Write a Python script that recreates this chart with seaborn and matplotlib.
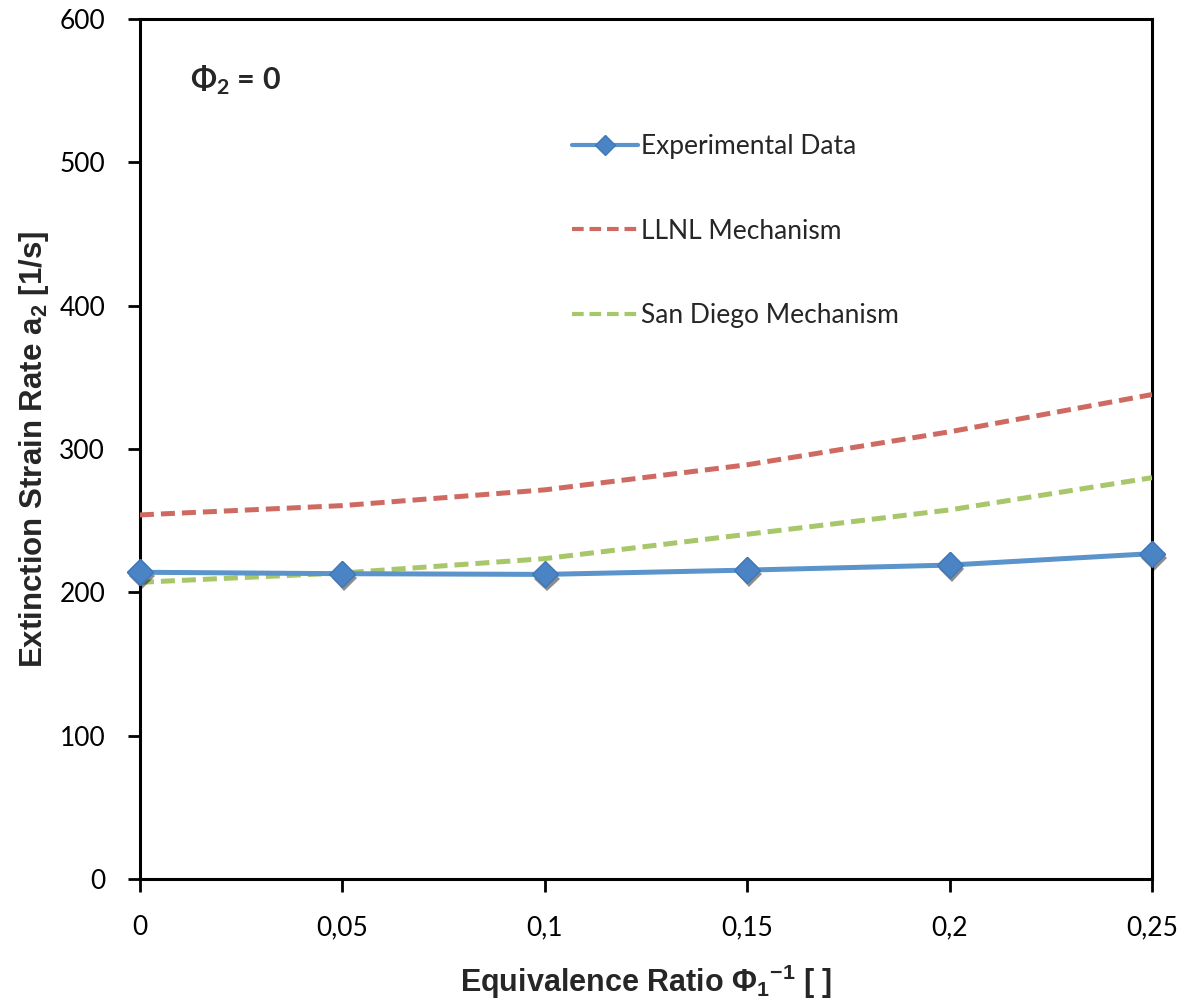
import matplotlib
matplotlib.use("Agg")
import matplotlib.pyplot as plt
import matplotlib.patheffects as pe
import seaborn as sns
import pandas as pd

# Inverse equivalence ratio of stream 1
phi1_inv = [0.0, 0.05, 0.10, 0.15, 0.20, 0.25]

# Extinction strain rates a2 [1/s]
experimental = [214, 213, 212.5, 215.5, 219, 227]
llnl = [254, 260.5, 271.5, 289, 312, 338]
san_diego = [207, 213.5, 223.5, 240.5, 257.5, 280]

series_names = ["Experimental Data", "LLNL Mechanism", "San Diego Mechanism"]
x_ticks = [0, 0.05, 0.10, 0.15, 0.20, 0.25]
x_tick_labels = ["0", "0,05", "0,1", "0,15", "0,2", "0,25"]
y_ticks = [0, 100, 200, 300, 400, 500, 600]

sns.set_theme(style="ticks")
plt.rcParams["font.family"] = ["Lato", "DejaVu Sans"]
plt.rcParams["mathtext.fontset"] = "custom"
plt.rcParams["mathtext.bf"] = "Liberation Sans:bold"
plt.rcParams["mathtext.sf"] = "Lato:bold"
plt.rcParams["mathtext.rm"] = "Liberation Sans"

df = pd.DataFrame({
    "x": phi1_inv * 3,
    "a2": experimental + llnl + san_diego,
    "series": [series_names[0]] * 6 + [series_names[1]] * 6 + [series_names[2]] * 6,
})

fig = plt.figure(figsize=(11.89, 10.02), dpi=100)
ax = fig.add_axes([0.1177, 0.1228, 0.8512, 0.8582])

blue_line = "#5B93CB"
blue_marker = "#4A84C4"
red = "#CF6A62"
green = "#A8C66A"

sns.lineplot(data=df[df.series == series_names[1]], x="x", y="a2", ax=ax,
             color=red, lw=3.6, label=series_names[1], zorder=3)
sns.lineplot(data=df[df.series == series_names[2]], x="x", y="a2", ax=ax,
             color=green, lw=3.6, label=series_names[2], zorder=3)
sns.lineplot(data=df[df.series == series_names[0]], x="x", y="a2", ax=ax,
             color=blue_line, lw=3.6, marker="D", markersize=13,
             markerfacecolor=blue_marker, markeredgecolor="#3F78B8",
             markeredgewidth=1, label=series_names[0], zorder=4, clip_on=False)

lines = ax.get_lines()
for ln in lines[:2]:
    ln.set_dashes((2.8, 1.4))

# soft shadow under the experimental markers
ax.plot(phi1_inv, experimental, ls="none", marker="D", markersize=13,
        color=blue_marker, zorder=3.5, clip_on=False,
        path_effects=[pe.SimplePatchShadow(offset=(1.5, -3), shadow_rgbFace="black", alpha=0.45),
                      pe.Normal()])

ax.set_xlim(0, 0.25)
ax.set_ylim(0, 600)
ax.set_xticks(x_ticks)
ax.set_xticklabels(x_tick_labels)
ax.set_yticks(y_ticks)

for s in ax.spines.values():
    s.set_visible(True)
    s.set_color("black")
    s.set_linewidth(2.2)

ax.tick_params(axis="both", direction="out", length=9, width=2, color="black",
               labelsize=19, labelcolor="black")
ax.tick_params(axis="y", pad=16)
ax.tick_params(axis="x", pad=17)

ax.set_xlabel(r"Equivalence Ratio Φ$_\mathbf{1}$$^\mathbf{-1}$ [ ]",
              fontsize=22, fontweight="bold", family="Liberation Sans", labelpad=16)
ax.set_ylabel(r"Extinction Strain Rate a$_\mathbf{2}$ [1/s]",
              fontsize=22.5, fontweight="bold", family="Liberation Sans", labelpad=6)

ax.text(0.049, 0.929, r"Φ$_\mathsf{2}$ = 0", transform=ax.transAxes,
        fontsize=22, fontweight="bold", ha="left", va="center")

handles, labels = ax.get_legend_handles_labels()
order = [labels.index(n) for n in series_names]
leg = ax.legend([handles[i] for i in order], [labels[i] for i in order],
                loc="upper left", bbox_to_anchor=(0.427, 0.866),
                frameon=False, fontsize=19, labelspacing=2.25,
                handlelength=2.5, handletextpad=0.1, borderpad=0,
                borderaxespad=0)
for h in leg.legend_handles:
    h.set_linewidth(3)
    if h.get_marker() not in (None, "None", ""):
        h.set_markersize(10)

fig.savefig("out.png", dpi=100)
